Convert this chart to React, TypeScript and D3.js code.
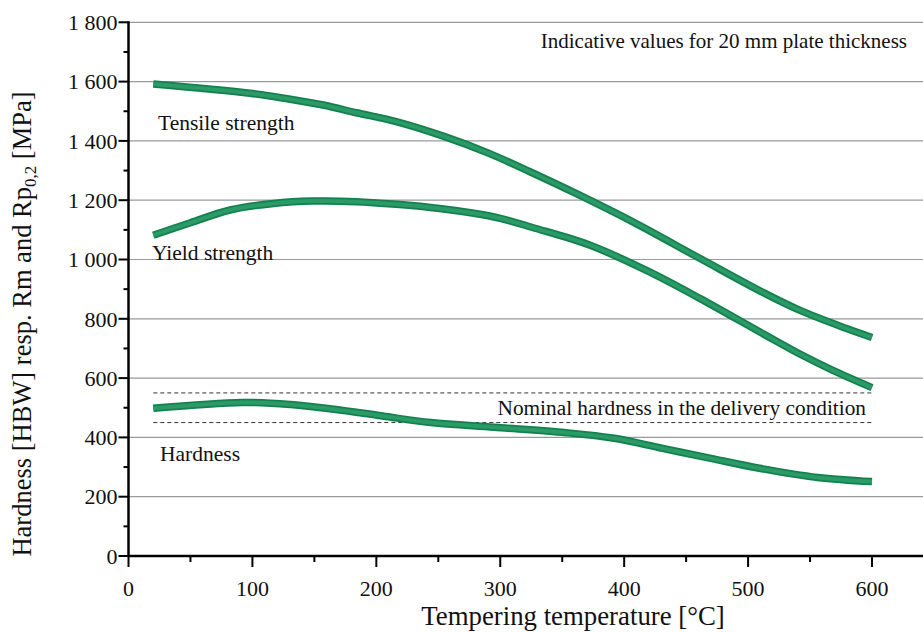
import React from "react";
import * as d3 from "d3";

const W = 923;
const H = 632;

const tensileT = [20, 98, 127, 157, 184, 216, 254, 291, 324, 364, 407, 461, 511, 541, 579, 600];
const tensileV = [1592, 1561, 1543, 1521, 1495, 1465, 1416, 1358, 1296, 1217, 1127, 1004, 891, 830, 768, 737];

const yieldT = [20, 50, 82, 117, 149, 184, 216, 251, 280, 300, 326, 372, 420, 461, 514, 541, 568, 600];
const yieldV = [1082, 1124, 1167, 1189, 1197, 1195, 1186, 1172, 1155, 1139, 1108, 1049, 959, 869, 745, 683, 627, 568];

const hardT = [20, 92, 131, 166, 205, 244, 295, 353, 392, 431, 470, 509, 556, 600];
const hardV = [498, 518, 511, 495, 472, 450, 434, 416, 397, 363, 329, 296, 265, 251];

const nominalBand = [450, 550];
const bandRange = [20, 600];

const yTicks = [0, 200, 400, 600, 800, 1000, 1200, 1400, 1600, 1800];
const yTickLabels = ["0", "200", "400", "600", "800", "1 000", "1 200", "1 400", "1 600", "1 800"];
const yMinor = [100, 300, 500, 700, 900, 1100, 1300, 1500, 1700];
const xTicks = [0, 100, 200, 300, 400, 500, 600];
const xMinor = [50, 150, 250, 350, 450, 550];

const FONT = "'Liberation Serif', 'Times New Roman', serif";

export default function App() {
  const x = d3.scaleLinear().domain([0, 600]).range([128.5, 872]);
  const y = d3.scaleLinear().domain([0, 1800]).range([556, 22.3]);

  const line = d3
    .line<[number, number]>()
    .x((d) => x(d[0]))
    .y((d) => y(d[1]))
    .curve(d3.curveCatmullRom.alpha(0.5));

  const series = [
    tensileT.map((t, i) => [t, tensileV[i]] as [number, number]),
    yieldT.map((t, i) => [t, yieldV[i]] as [number, number]),
    hardT.map((t, i) => [t, hardV[i]] as [number, number]),
  ];

  const x0 = x(0);
  const y0 = y(0);

  return (
    <svg
      width={W}
      height={H}
      style={{ position: "absolute", left: 0, top: 0, background: "#fff", fontFamily: FONT }}
    >
      <rect x={0} y={0} width={W} height={H} fill="#fff" />
      {yTicks.slice(1).map((v) => (
        <line key={"g" + v} x1={x0} x2={W} y1={y(v)} y2={y(v)} stroke="#9a9a9a" strokeWidth={1.2} />
      ))}
      {nominalBand.map((v) => (
        <line
          key={"n" + v}
          x1={x(bandRange[0])}
          x2={x(bandRange[1])}
          y1={y(v)}
          y2={y(v)}
          stroke="#333"
          strokeWidth={1}
          strokeDasharray="4,3"
        />
      ))}
      {series.map((s, i) => (
        <g key={"s" + i}>
          <path d={line(s) || ""} fill="none" stroke="#15804f" strokeWidth={7.5} />
          <path d={line(s) || ""} fill="none" stroke="#2a9b66" strokeWidth={4} />
        </g>
      ))}
      <line x1={x0} x2={x0} y1={y(1800) - 1} y2={y0 + 1} stroke="#000" strokeWidth={2.5} />
      <line x1={x0 - 1} x2={W} y1={y0} y2={y0} stroke="#000" strokeWidth={2.5} />
      {yTicks.map((v, i) => (
        <g key={"yt" + v}>
          <line x1={x0 - 10} x2={x0} y1={y(v)} y2={y(v)} stroke="#000" strokeWidth={2} />
          <text x={x0 - 11} y={y(v)} dy="0.35em" textAnchor="end" fontSize={22} fill="#111">
            {yTickLabels[i]}
          </text>
        </g>
      ))}
      {yMinor.map((v) => (
        <line key={"ym" + v} x1={x0 - 5} x2={x0} y1={y(v)} y2={y(v)} stroke="#000" strokeWidth={2} />
      ))}
      {xTicks.map((v) => (
        <g key={"xt" + v}>
          <line x1={x(v)} x2={x(v)} y1={y0} y2={y0 + 11} stroke="#000" strokeWidth={2} />
          <text x={x(v)} y={596} textAnchor="middle" fontSize={22} fill="#111">
            {v}
          </text>
        </g>
      ))}
      {xMinor.map((v) => (
        <line key={"xm" + v} x1={x(v)} x2={x(v)} y1={y0} y2={y0 + 6} stroke="#000" strokeWidth={2} />
      ))}
      <text x={573} y={625} textAnchor="middle" fontSize={26.8} fill="#111">
        Tempering temperature [°C]
      </text>
      <text
        transform="translate(31,324) rotate(-90)"
        textAnchor="middle"
        fontSize={26.5}
        fill="#111"
      >
        Hardness [HBW] resp. Rm and Rp
        <tspan fontSize={17} dy={5}>0,2</tspan>
        <tspan dy={-5}> [MPa]</tspan>
      </text>
      <text x={907} y={48} textAnchor="end" fontSize={21} fill="#111">
        Indicative values for 20 mm plate thickness
      </text>
      <text x={158} y={130} fontSize={21.5} fill="#111">
        Tensile strength
      </text>
      <text x={152} y={260} fontSize={21.5} fill="#111">
        Yield strength
      </text>
      <text x={160} y={461} fontSize={21.5} fill="#111">
        Hardness
      </text>
      <text x={866} y={415} textAnchor="end" fontSize={21.3} fill="#111">
        Nominal hardness in the delivery condition
      </text>
    </svg>
  );
}
